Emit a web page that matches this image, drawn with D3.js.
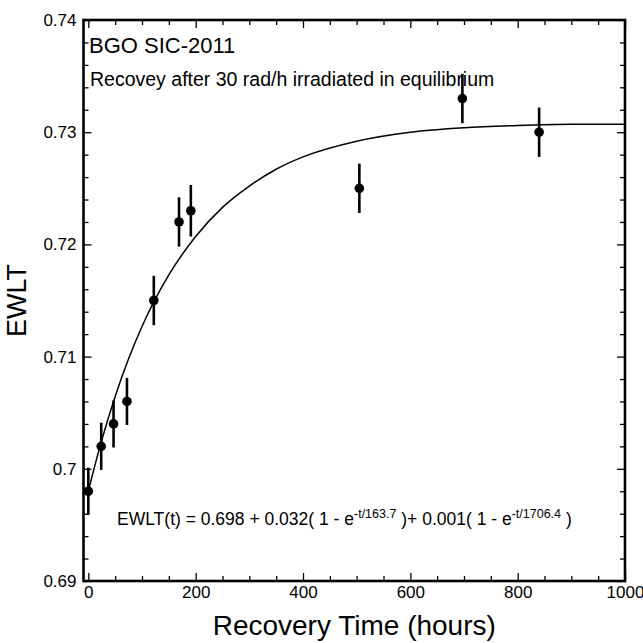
<!DOCTYPE html>
<html>
<head>
<meta charset="utf-8">
<script src="https://cdn.jsdelivr.net/npm/d3@7"></script>
<style>
  body { margin: 0; background: #fff; }
  text { font-family: "Liberation Sans", Arial, sans-serif; fill: #000; }
</style>
</head>
<body>
<script>
// #Measured points (hours, EWLT, error)
const hours = [0, 24, 47, 72, 122, 169, 191, 505, 697, 840];
const ewlt = [0.698, 0.702, 0.704, 0.706, 0.715, 0.722, 0.723, 0.725, 0.733, 0.730];
const errs = [0.0021, 0.0021, 0.0021, 0.0021, 0.0022, 0.0022, 0.0023, 0.0022, 0.0022, 0.0022];

// #Fit curve
const fitT = [0, 10, 25, 50, 75, 100, 150, 200, 250, 300, 350, 400, 500, 600, 700, 800, 900, 1000];
const fitY = [0.698, 0.6999, 0.70255, 0.70645, 0.7098, 0.71268, 0.71728, 0.7207, 0.7233, 0.7252,
              0.7267, 0.7278, 0.7292, 0.7300, 0.7304, 0.7306, 0.7307, 0.7307];

// #Axis ticks
const xMajor = [0, 200, 400, 600, 800, 1000];
const xMinor = [50, 100, 150, 250, 300, 350, 450, 500, 550, 650, 700, 750, 850, 900, 950];
const yMajor = [0.69, 0.7, 0.71, 0.72, 0.73, 0.74];
const yLabels = ['0.69', '0.7', '0.71', '0.72', '0.73', '0.74'];
const yMinor = [0.692, 0.694, 0.696, 0.698, 0.702, 0.704, 0.706, 0.708, 0.712, 0.714, 0.716, 0.718,
                0.722, 0.724, 0.726, 0.728, 0.732, 0.734, 0.736, 0.738];

const title = 'BGO SIC-2011';
const subtitle = 'Recovey after 30 rad/h irradiated in equilibrium';

const width = 643, height = 643;
const mLeft = 83.5, mRight = 625, mTop = 20, mBottom = 581;

const svg = d3.select('body')
              .append('svg')
              .attr('width', width)
              .attr('height', height);

const x = d3.scaleLinear().domain([-9, 1000]).range([mLeft, mRight]);
const y = d3.scaleLinear().domain([0.69, 0.74]).range([mBottom, mTop]);

// #Axes, ticks pointing inwards on all four sides
const drawAxis = (axisFn, scale, pos, major, minor, labels) => {
    const g = svg.append('g').attr('transform', pos);
    g.call(axisFn(scale).tickValues(major).tickSize(-8).tickSizeOuter(0)
           .tickFormat(labels ? (d, i) => labels[i] : ''));
    g.select('.domain').remove();
    g.append('g').call(axisFn(scale).tickValues(minor).tickSize(-5).tickSizeOuter(0).tickFormat(''))
     .select('.domain').remove();
    g.selectAll('line').attr('stroke', '#000').attr('stroke-width', 1.3);
    return g;
};

const gx = drawAxis(d3.axisBottom, x, `translate(0,${mBottom})`, xMajor, xMinor, xMajor.map(String));
gx.selectAll('.tick text').attr('y', 5).style('font-size', '17px').attr('fill', '#111');
drawAxis(d3.axisTop, x, `translate(0,${mTop})`, xMajor, xMinor, null);

const gy = drawAxis(d3.axisLeft, y, `translate(${mLeft},0)`, yMajor, yMinor, yLabels);
gy.selectAll('.tick text').attr('x', -7).style('font-size', '17px').attr('fill', '#111');
drawAxis(d3.axisRight, y, `translate(${mRight},0)`, yMajor, yMinor, null);

// #Frame
svg.append('rect')
   .attr('x', mLeft).attr('y', mTop)
   .attr('width', mRight - mLeft).attr('height', mBottom - mTop)
   .attr('fill', 'none').attr('stroke', '#000').attr('stroke-width', 2.6);

// #Fit curve
const line = d3.line().x((d, i) => x(fitT[i])).y(d => y(d)).curve(d3.curveMonotoneX);
svg.append('path')
   .datum(fitY)
   .attr('d', line)
   .attr('fill', 'none')
   .attr('stroke', '#000')
   .attr('stroke-width', 1.5);

// #Error bars and points
const pts = hours.map((h, i) => ({ h, v: ewlt[i], e: errs[i] }));
svg.append('g').selectAll('line')
   .data(pts).enter().append('line')
   .attr('x1', d => x(d.h)).attr('x2', d => x(d.h))
   .attr('y1', d => y(d.v - d.e)).attr('y2', d => y(d.v + d.e))
   .attr('stroke', '#000').attr('stroke-width', 2.6);
svg.append('g').selectAll('circle')
   .data(pts).enter().append('circle')
   .attr('cx', d => x(d.h)).attr('cy', d => y(d.v))
   .attr('r', 4.8).attr('fill', '#000');

// #Texts
svg.append('text').attr('x', 89).attr('y', 53).style('font-size', '22px').text(title);
svg.append('text').attr('x', 90).attr('y', 86).style('font-size', '19.5px').text(subtitle);

const formula = svg.append('text').attr('x', 117).attr('y', 525).style('font-size', '17.5px');
formula.append('tspan').text('EWLT(t) = 0.698 + 0.032( 1 - e');
formula.append('tspan').attr('dy', -7).style('font-size', '12.5px').text('-t/163.7');
formula.append('tspan').attr('dy', 7).text(' )+ 0.001( 1 - e');
formula.append('tspan').attr('dy', -7).style('font-size', '12.5px').text('-t/1706.4');
formula.append('tspan').attr('dy', 7).text(' )');

svg.append('text')
   .attr('x', (mLeft + mRight) / 2).attr('y', 635)
   .attr('text-anchor', 'middle')
   .style('font-size', '28px')
   .text('Recovery Time (hours)');

svg.append('text')
   .attr('transform', `translate(26,${(mTop + mBottom) / 2}) rotate(-90)`)
   .attr('text-anchor', 'middle')
   .style('font-size', '27px')
   .text('EWLT');
</script>
</body>
</html>
